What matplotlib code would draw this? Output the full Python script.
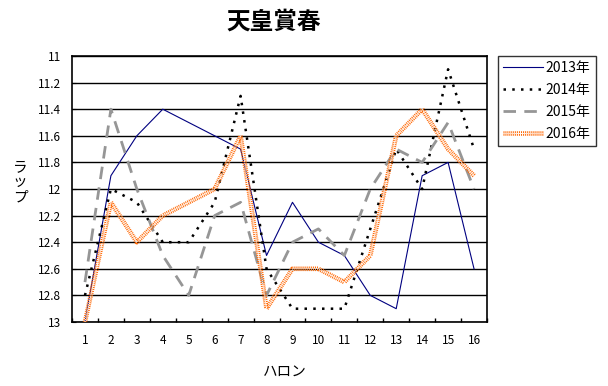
import matplotlib.pyplot as plt
import matplotlib.patheffects as pe
import numpy as np

plt.rcParams['font.family'] = ['Noto Sans CJK JP', 'DejaVu Sans']

# データ (ハロン毎のラップ)
furlongs = list(range(1, 17))
lap_2013 = [13.0, 11.9, 11.6, 11.4, 11.5, 11.6, 11.7, 12.5, 12.1, 12.4, 12.5, 12.8, 12.9, 11.9, 11.8, 12.6]
lap_2014 = [12.8, 12.0, 12.1, 12.4, 12.4, 12.1, 11.3, 12.6, 12.9, 12.9, 12.9, 12.3, 11.7, 12.0, 11.1, 11.7]
lap_2015 = [12.7, 11.4, 12.0, 12.5, 12.8, 12.2, 12.1, 12.8, 12.4, 12.3, 12.5, 12.0, 11.7, 11.8, 11.5, 12.0]
lap_2016 = [13.0, 12.1, 12.4, 12.2, 12.1, 12.0, 11.6, 12.9, 12.6, 12.6, 12.7, 12.5, 11.6, 11.4, 11.7, 11.9]
ytick_labels = ['11', '11.2', '11.4', '11.6', '11.8', '12', '12.2', '12.4', '12.6', '12.8', '13']

fig = plt.figure(figsize=(6.08, 3.86), dpi=100)
ax = fig.add_axes([72 / 608, 1 - 322 / 386, 415 / 608, 266 / 386])

x = np.array(furlongs)
ax.plot(x, lap_2013, color='#000080', lw=0.8, label='2013年', zorder=3)
ax.plot(x, lap_2014, color='black', lw=1.8, linestyle=(0, (1, 2.5)), label='2014年', zorder=3)
ax.plot(x, lap_2015, color='#969696', lw=2.0, linestyle=(0, (4.5, 3)), label='2015年', zorder=3)
ax.plot(x, lap_2016, color='white', lw=0.7, linestyle=(0, (1, 1)), label='2016年', zorder=4,
        path_effects=[pe.withStroke(linewidth=3.3, foreground='#FF6600')])

ax.set_xlim(0.5, 16.5)
ax.set_ylim(13, 11)
ax.set_yticks(np.arange(11, 13.01, 0.2))
ax.set_yticklabels(ytick_labels)
ax.set_xticks(x)
ax.set_xticklabels([str(i) for i in furlongs])
ax.set_xticks(np.arange(0.5, 16.6, 1), minor=True)
ax.tick_params(axis='x', which='major', length=0, labelsize=8.5, pad=9)
ax.tick_params(axis='x', which='minor', length=3, direction='in', width=1)
ax.tick_params(axis='y', length=3, direction='in', labelsize=8.5, pad=8)
ax.grid(axis='y', color='black', lw=1)
ax.set_axisbelow(True)
for s in ax.spines.values():
    s.set_linewidth(1.2)

fig.text(274 / 608, 1 - 22 / 386, '天皇賞春', fontsize=17, fontweight='bold', style='italic',
         ha='center', va='center')
fig.text(20 / 608, 1 - 182 / 386, 'ラ\nッ\nプ', fontsize=10.5, ha='center', va='center', linespacing=1.1)
fig.text(285 / 608, 1 - 372 / 386, 'ハロン', fontsize=10.5, ha='center', va='center')

leg = ax.legend(loc='upper left', bbox_to_anchor=(498 / 608, 1 - 56 / 386),
                bbox_transform=fig.transFigure, fontsize=10, frameon=True, fancybox=False,
                handlelength=2.9, handletextpad=0.2, labelspacing=0.58, borderpad=0.35,
                borderaxespad=0)
leg.get_frame().set_edgecolor('black')
leg.get_frame().set_linewidth(1)

fig.savefig('out.png', dpi=100)
